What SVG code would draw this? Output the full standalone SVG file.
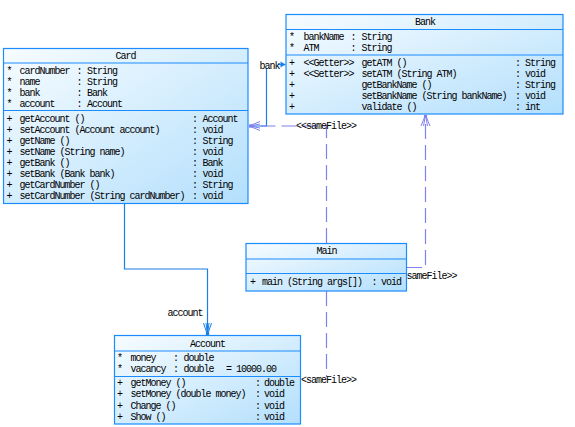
<svg xmlns="http://www.w3.org/2000/svg" width="575" height="427" viewBox="0 0 575 427">
<style>
text{font-family:"Liberation Mono","DejaVu Sans Mono",monospace;font-size:10px;letter-spacing:-1px;fill:#000}
.c{text-anchor:middle}
.box{fill:url(#g);stroke:#1a8cff;stroke-width:1.2}
.sep{stroke:#1a8cff;stroke-width:1.2}
.solid{fill:none;stroke:#1a7fe8;stroke-width:1.2}
.dash{fill:none;stroke:#8080ee;stroke-width:1.2;stroke-dasharray:15 6}
</style>
<defs>
<linearGradient id="g" x1="0" y1="0" x2="1" y2="1">
<stop offset="0" stop-color="#f7fcff"/>
<stop offset="1" stop-color="#b3dffc"/>
</linearGradient>
<marker id="openD" markerUnits="userSpaceOnUse" markerWidth="14" markerHeight="12" viewBox="-12 -6 14 12" refX="0" refY="0" orient="auto">
<path d="M-11,-4.5 L0,0 L-11,4.5 M-11,-2 L0,0 L-11,2" fill="none" stroke="#8080ee" stroke-width="1"/>
<rect x="-3" y="-1.6" width="3" height="3.2" fill="#8080ee"/>
</marker>
<marker id="openS" markerUnits="userSpaceOnUse" markerWidth="14" markerHeight="12" viewBox="-12 -6 14 12" refX="0" refY="0" orient="auto">
<path d="M-12,-4 L0,0 L-12,4 M-12,-1.5 L0,0 L-12,1.5" fill="none" stroke="#1a7fe8" stroke-width="1"/>
<rect x="-3" y="-1.6" width="3" height="3.2" fill="#1a7fe8"/>
</marker>
<marker id="fillS" markerUnits="userSpaceOnUse" markerWidth="8" markerHeight="8" viewBox="-6 -4 8 8" refX="0" refY="0" orient="auto">
<path d="M-5,-3 L0,0 L-5,3 Z" fill="#1a7fe8"/>
</marker>
</defs>

<g id="connectors">
<path class="solid" d="M249,126 H266.5 V68.5"/>
<path class="solid" d="M278,64.5 H285.5" marker-end="url(#fillS)"/>
<path class="solid" d="M124.5,204 V269 H207.5 V335" marker-end="url(#openS)"/>
<path class="dash" d="M326.5,243 V126 H249" marker-end="url(#openD)"/>
<path class="dash" d="M407,267.5 H425.5 V115" marker-end="url(#openD)"/>
<path class="dash" d="M326.5,291 V377"/>
<text x="259.5" y="68.5">bank</text>
<text x="167.5" y="315.5">account</text>
<text x="296" y="129">&lt;&lt;sameFile&gt;&gt;</text>
<text x="406.5" y="279">sameFile&gt;&gt;</text>
<text x="301" y="382.5">&lt;sameFile&gt;&gt;</text>
</g>

<g id="Card">
<rect class="box" x="3.5" y="48.5" width="244.5" height="155"/>
<line class="sep" x1="3.5" y1="63" x2="248" y2="63"/>
<line class="sep" x1="3.5" y1="110.5" x2="248" y2="110.5"/>
<text class="c" x="125.5" y="58.5">Card</text>
<text x="6.5" y="74">*</text><text x="19.5" y="74">cardNumber</text><text x="76.5" y="74">:</text><text x="87" y="74">String</text>
<text x="6.5" y="85">*</text><text x="19.5" y="85">name</text><text x="76.5" y="85">:</text><text x="87" y="85">String</text>
<text x="6.5" y="96">*</text><text x="19.5" y="96">bank</text><text x="76.5" y="96">:</text><text x="87" y="96">Bank</text>
<text x="6.5" y="107">*</text><text x="19.5" y="107">account</text><text x="76.5" y="107">:</text><text x="87" y="107">Account</text>
<text x="6.5" y="122">+</text><text x="19.5" y="122">getAccount ()</text><text x="192" y="122">:</text><text x="202.5" y="122">Account</text>
<text x="6.5" y="133">+</text><text x="19.5" y="133">setAccount (Account account)</text><text x="192" y="133">:</text><text x="202.5" y="133">void</text>
<text x="6.5" y="144">+</text><text x="19.5" y="144">getName ()</text><text x="192" y="144">:</text><text x="202.5" y="144">String</text>
<text x="6.5" y="155">+</text><text x="19.5" y="155">setName (String name)</text><text x="192" y="155">:</text><text x="202.5" y="155">void</text>
<text x="6.5" y="166">+</text><text x="19.5" y="166">getBank ()</text><text x="192" y="166">:</text><text x="202.5" y="166">Bank</text>
<text x="6.5" y="177">+</text><text x="19.5" y="177">setBank (Bank bank)</text><text x="192" y="177">:</text><text x="202.5" y="177">void</text>
<text x="6.5" y="188">+</text><text x="19.5" y="188">getCardNumber ()</text><text x="192" y="188">:</text><text x="202.5" y="188">String</text>
<text x="6.5" y="199">+</text><text x="19.5" y="199">setCardNumber (String cardNumber)</text><text x="192" y="199">:</text><text x="202.5" y="199">void</text>
</g>

<g id="Bank">
<rect class="box" x="286" y="14.5" width="277" height="99.5"/>
<line class="sep" x1="286" y1="29.5" x2="563" y2="29.5"/>
<line class="sep" x1="286" y1="55" x2="563" y2="55"/>
<text class="c" x="425" y="25">Bank</text>
<text x="289" y="40">*</text><text x="303.5" y="40">bankName</text><text x="350.5" y="40">:</text><text x="361.5" y="40">String</text>
<text x="289" y="51">*</text><text x="303.5" y="51">ATM</text><text x="350.5" y="51">:</text><text x="361.5" y="51">String</text>
<text x="289" y="66">+</text><text x="303.5" y="66">&lt;&lt;Getter&gt;&gt;</text><text x="361.5" y="66">getATM ()</text><text x="515" y="66">:</text><text x="525" y="66">String</text>
<text x="289" y="77">+</text><text x="303.5" y="77">&lt;&lt;Setter&gt;&gt;</text><text x="361.5" y="77">setATM (String ATM)</text><text x="515" y="77">:</text><text x="525" y="77">void</text>
<text x="289" y="88">+</text><text x="361.5" y="88">getBankName ()</text><text x="515" y="88">:</text><text x="525" y="88">String</text>
<text x="289" y="99">+</text><text x="361.5" y="99">setBankName (String bankName)</text><text x="515" y="99">:</text><text x="525" y="99">void</text>
<text x="289" y="110">+</text><text x="361.5" y="110">validate ()</text><text x="515" y="110">:</text><text x="525" y="110">int</text>
</g>

<g id="Main">
<rect class="box" x="246" y="243.5" width="160.5" height="47.5"/>
<line class="sep" x1="246" y1="259" x2="406.5" y2="259"/>
<line class="sep" x1="246" y1="273.5" x2="406.5" y2="273.5"/>
<text class="c" x="326.5" y="254">Main</text>
<text x="250" y="285">+</text><text x="262" y="285">main (String args[])</text><text x="371.5" y="285">:</text><text x="381" y="285">void</text>
</g>

<g id="Account">
<rect class="box" x="114.5" y="335.5" width="186" height="88.5"/>
<line class="sep" x1="114.5" y1="351" x2="300.5" y2="351"/>
<line class="sep" x1="114.5" y1="376.5" x2="300.5" y2="376.5"/>
<text class="c" x="207.5" y="346.5">Account</text>
<text x="117" y="361">*</text><text x="130.5" y="361">money</text><text x="173" y="361">:</text><text x="183.5" y="361">double</text>
<text x="117" y="372">*</text><text x="130.5" y="372">vacancy</text><text x="173" y="372">:</text><text x="183.5" y="372">double</text><text x="226" y="372">= 10000.00</text>
<text x="117" y="386">+</text><text x="130.5" y="386">getMoney ()</text><text x="255" y="386">:</text><text x="264" y="386">double</text>
<text x="117" y="397">+</text><text x="130.5" y="397">setMoney (double money)</text><text x="255" y="397">:</text><text x="264" y="397">void</text>
<text x="117" y="408.5">+</text><text x="130.5" y="408.5">Change ()</text><text x="255" y="408.5">:</text><text x="264" y="408.5">void</text>
<text x="117" y="420">+</text><text x="130.5" y="420">Show ()</text><text x="255" y="420">:</text><text x="264" y="420">void</text>
</g>
</svg>
